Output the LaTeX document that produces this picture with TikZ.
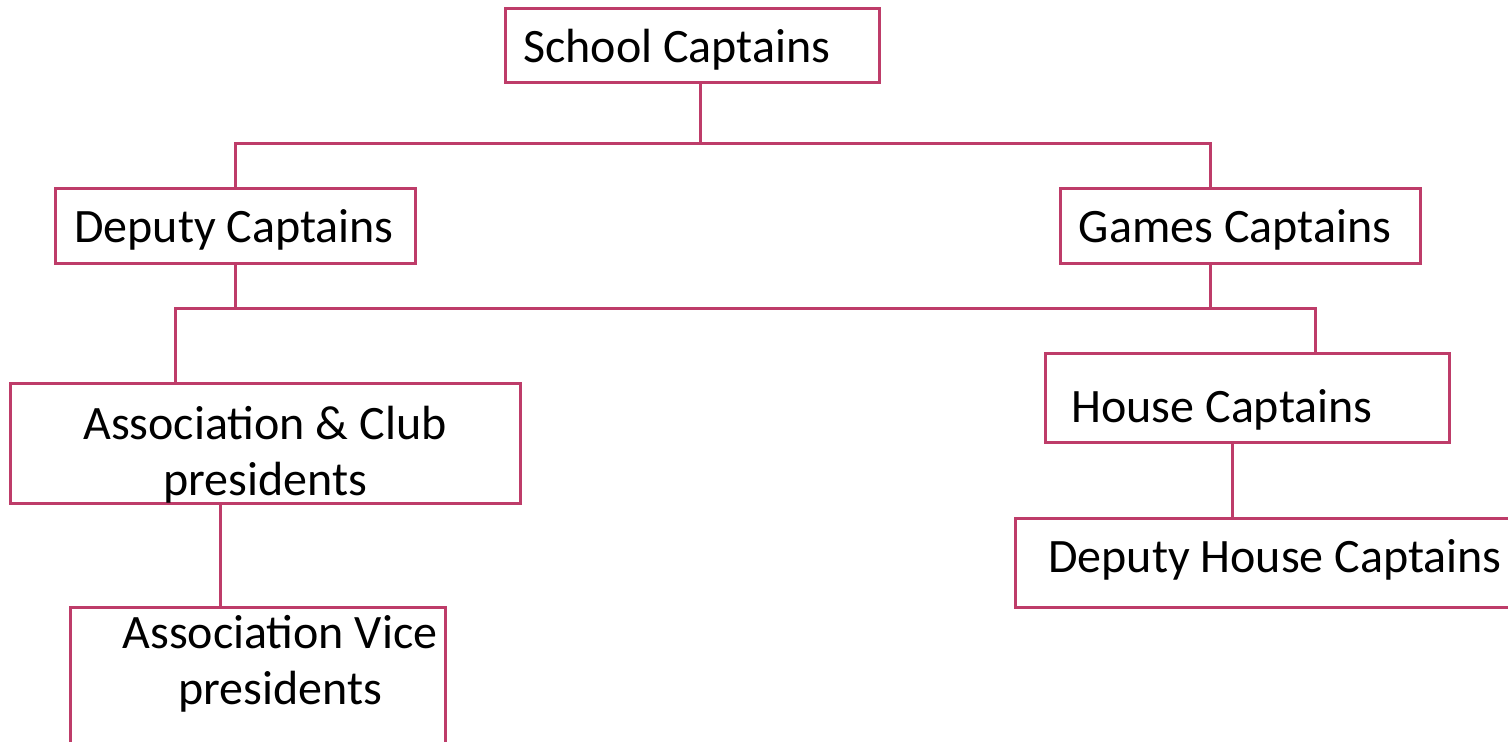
\documentclass[tikz,border=0pt]{standalone}
\usepackage{fontspec}
\setmainfont{Carlito}
\usepackage{tikz}
\usetikzlibrary{positioning}
\tikzstyle{chart} = [x = 0.5pt, y = -0.5pt]
\definecolor{boxColor}{RGB}{190,60,105}
\tikzstyle{orgBox} = [draw=boxColor, line width=1.5pt, fill=white, anchor=north west, inner sep=0pt, outer sep=0pt]
\tikzstyle{orgLink} = [draw=boxColor, line width=1.5pt]
\tikzstyle{orgText} = [font=\fontsize{24}{28}\selectfont, text=black, inner sep=0pt, align=center]
\newcommand{\orgBox}[5]{\node [orgBox, minimum width=#4*0.5pt, minimum height=#5*0.5pt] (#1) at (#2,#3) {};}

\begin{document}
\begin{tikzpicture}[chart]
            \useasboundingbox (0,0) rectangle (1508,741);
            \clip (0,0) rectangle (1508,741);
            % boxes
            \orgBox{school}{505}{8}{374}{74}
            \orgBox{deputy}{55}{188}{360}{75}
            \orgBox{games}{1060}{188}{360}{75}
            \orgBox{assoc}{10}{383}{510}{120}
            \orgBox{house}{1045}{353}{404}{89}
            \orgBox{deputyHouse}{1015}{518}{520}{89}
            \orgBox{vice}{70}{607}{375}{160}

            % connectors
            \coordinate (topJoin) at (700,143);
            \coordinate (leftLeg) at (235,143);
            \coordinate (rightLeg) at (1210,143);
            \coordinate (deputyDrop) at (235,308);
            \coordinate (gamesDrop) at (1210,308);
            \coordinate (assocLeg) at (175,308);
            \coordinate (houseLeg) at (1315,308);
            \draw [orgLink] (school.south -| topJoin) -- (topJoin);
            \draw [orgLink] (deputy.north -| leftLeg) -- (leftLeg) -- (rightLeg) -- (games.north -| rightLeg);
            \draw [orgLink] (deputy.south -| deputyDrop) -- (deputyDrop);
            \draw [orgLink] (games.south -| gamesDrop) -- (gamesDrop);
            \draw [orgLink] (assoc.north -| assocLeg) -- (assocLeg) -- (houseLeg) -- (house.north -| houseLeg);
            \draw [orgLink] (assoc.south -| 220,0) -- (vice.north -| 220,0);
            \draw [orgLink] (house.south -| 1232,0) -- (deputyHouse.north -| 1232,0);

            % labels
            \node [orgText, anchor=base] (schoolText) at (677,62) {School Captains};
            \node [orgText, anchor=base] (deputyText) at (234,242) {Deputy Captains};
            \node [orgText, anchor=base] (gamesText) at (1235,242) {Games Captains};
            \node [orgText] (assocText) at (265,455) {Association \& Club\\presidents};
            \node [orgText, anchor=base] (houseText) at (1222,422) {House Captains};
            \node [orgText, anchor=base] (deputyHouseText) at (1275,572) {Deputy House Captains};
            \node [orgText] (viceText) at (280,664) {Association Vice\\presidents};
          \end{tikzpicture}
\end{document}
